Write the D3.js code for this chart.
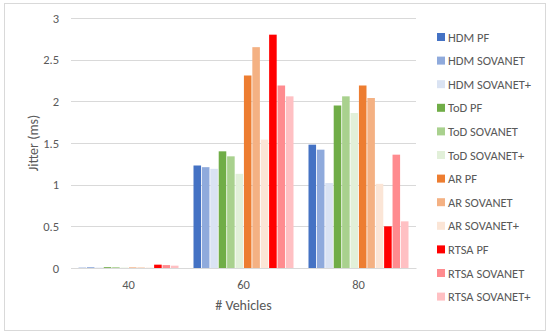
<!DOCTYPE html>
<html>
<head>
<meta charset="utf-8">
<script src="https://cdn.jsdelivr.net/npm/d3@7"></script>
<style>
  body { margin: 0; background: #fff; }
  text { font-family: Calibri, Carlito, "Liberation Sans", "Open Sans", sans-serif; fill: #595959; }
</style>
</head>
<body>
<div id="container"></div>
<script>
let categories = ['40', '60', '80']
let seriesNames = ['HDM PF', 'HDM SOVANET', 'HDM SOVANET+', 'ToD PF', 'ToD SOVANET', 'ToD SOVANET+',
  'AR PF', 'AR SOVANET', 'AR SOVANET+', 'RTSA PF', 'RTSA SOVANET', 'RTSA SOVANET+']
let seriesColors = ['#4472C4', '#8FAADC', '#DAE3F3', '#70AD47', '#A9D18E', '#E2F0D9',
  '#ED7D31', '#F4B183', '#FBE5D6', '#FF0000', '#FF8B8F', '#FFC0C3']
// one row per series, one value per category (40, 60, 80)
let values = [
  [0.003, 1.23, 1.48],
  [0.01, 1.21, 1.42],
  [0.005, 1.19, 1.02],
  [0.01, 1.40, 1.95],
  [0.01, 1.34, 2.06],
  [0.005, 1.13, 1.86],
  [0.005, 2.31, 2.19],
  [0.005, 2.65, 2.04],
  [0.005, 1.54, 1.01],
  [0.04, 2.80, 0.50],
  [0.035, 2.19, 1.36],
  [0.028, 2.06, 0.56]
]
let yTicks = [0, 0.5, 1, 1.5, 2, 2.5, 3]

let width = 550, height = 335
let plot = {left: 71, right: 416, top: 18, bottom: 268}

let svg = d3.select('#container').append('svg')
  .attr('width', width)
  .attr('height', height)

svg.append('rect')
  .attr('x', 4.5).attr('y', 3.5)
  .attr('width', 541).attr('height', 327)
  .attr('fill', '#fff')
  .attr('stroke', '#d9d9d9')

const yScale = d3.scaleLinear()
  .domain([0, 3])
  .range([plot.bottom, plot.top])

const xScale = d3.scaleBand()
  .domain(categories)
  .range([plot.left, plot.right])

const inner = d3.scaleBand()
  .domain(d3.range(seriesNames.length))
  .range([0, 100])
  .paddingInner(0.1)

// gridlines
svg.append('g')
  .selectAll('line')
  .data(yTicks)
  .enter()
  .append('line')
  .attr('x1', plot.left)
  .attr('x2', plot.right)
  .attr('y1', d => Math.round(yScale(d)) + 0.5)
  .attr('y2', d => Math.round(yScale(d)) + 0.5)
  .attr('stroke', '#d9d9d9')

const yAxis = d3.axisLeft(yScale)
  .tickValues(yTicks)
  .tickSize(0)
  .tickPadding(12)
  .tickFormat(d3.format('~g'))

svg.append('g')
  .attr('transform', `translate(${plot.left},0)`)
  .call(yAxis)
  .call(g => g.select('.domain').remove())
  .selectAll('text')
  .style('font-size', '12.5px')

const xAxis = d3.axisBottom(xScale)
  .tickSize(0)
  .tickPadding(12)

svg.append('g')
  .attr('transform', `translate(0,${plot.bottom})`)
  .call(xAxis)
  .call(g => g.select('.domain').attr('stroke', '#d9d9d9'))
  .selectAll('text')
  .style('font-size', '12.5px')

// bars
let groups = svg.append('g')
  .selectAll('g')
  .data(seriesNames)
  .enter()
  .append('g')
  .attr('fill', (d, i) => seriesColors[i])

groups.selectAll('rect')
  .data((d, i) => values[i].map((v, j) => ({s: i, cat: categories[j], v: v})))
  .enter()
  .append('rect')
  .attr('x', d => xScale(d.cat) + xScale.bandwidth() / 2 - 50 + inner(d.s))
  .attr('width', inner.bandwidth())
  .attr('y', d => yScale(d.v))
  .attr('height', d => yScale(0) - yScale(d.v))

// axis titles
svg.append('text')
  .attr('transform', 'translate(38,143) rotate(-90)')
  .attr('text-anchor', 'middle')
  .style('font-size', '14px')
  .text('Jitter (ms)')

svg.append('text')
  .attr('x', (plot.left + plot.right) / 2)
  .attr('y', 310)
  .attr('text-anchor', 'middle')
  .style('font-size', '14px')
  .text('# Vehicles')

// legend
let legend = svg.append('g')
  .selectAll('g')
  .data(seriesNames)
  .enter()
  .append('g')
  .attr('transform', (d, i) => `translate(437,${37 + i * 23.6})`)

legend.append('rect')
  .attr('x', 0).attr('y', -4)
  .attr('width', 8).attr('height', 8)
  .attr('fill', (d, i) => seriesColors[i])

legend.append('text')
  .attr('x', 11)
  .attr('y', 4.5)
  .style('font-size', '12.5px')
  .text(d => d)
</script>
</body>
</html>
